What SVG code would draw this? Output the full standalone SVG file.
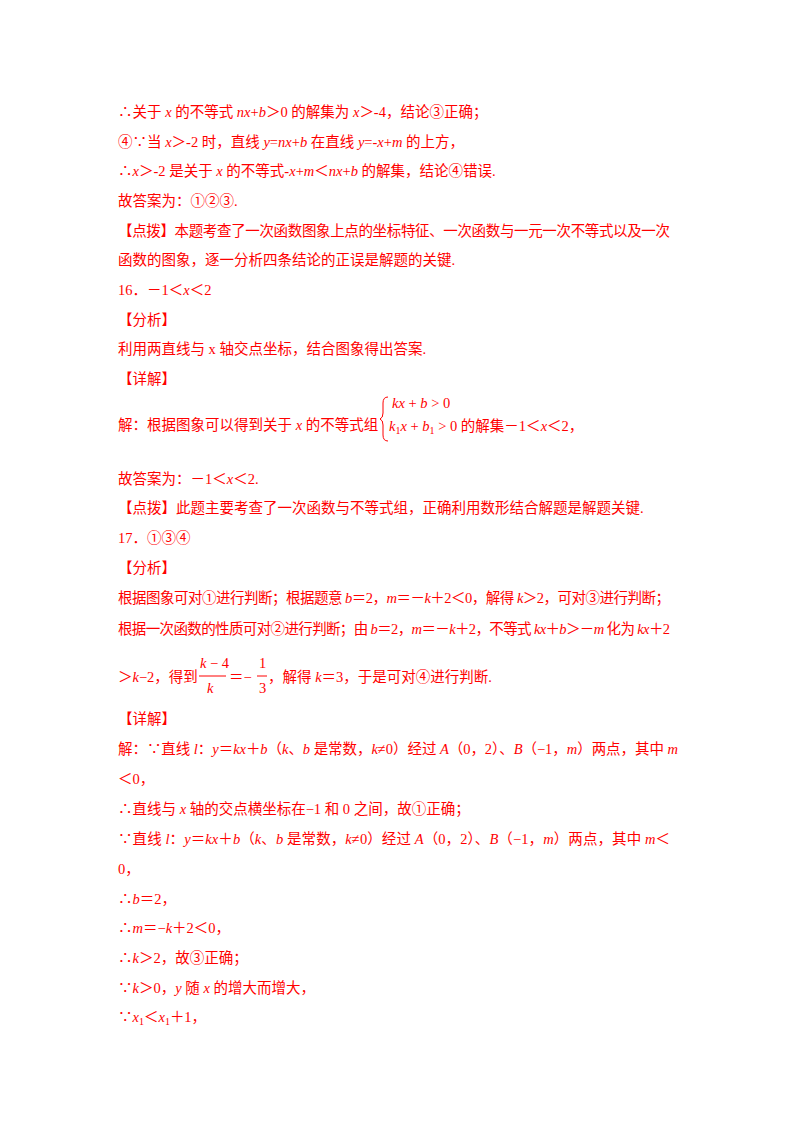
<svg xmlns="http://www.w3.org/2000/svg" width="800" height="1132" viewBox="0 0 800 1132">
<style>
text{font-family:"Liberation Serif","Noto Sans CJK SC",serif;font-size:14.5px;fill:#ff0000}
.i{font-style:italic}
.s{font-size:10px}
</style>
<rect width="800" height="1132" fill="#fff"/>
<g id="text">
<text x="118" y="117">∴关于 <tspan class="i">x</tspan> 的不等式 <tspan class="i">nx</tspan>+<tspan class="i">b</tspan>＞0 的解集为 <tspan class="i">x</tspan>＞-4，结论③正确；</text>
<text x="118" y="147">④∵当 <tspan class="i">x</tspan>＞-2 时，直线 <tspan class="i">y</tspan>=<tspan class="i">nx</tspan>+<tspan class="i">b</tspan> 在直线 <tspan class="i">y</tspan>=-<tspan class="i">x</tspan>+<tspan class="i">m</tspan> 的上方，</text>
<text x="118" y="176">∴<tspan class="i">x</tspan>＞-2 是关于 <tspan class="i">x</tspan> 的不等式-<tspan class="i">x</tspan>+<tspan class="i">m</tspan>＜<tspan class="i">nx</tspan>+<tspan class="i">b</tspan> 的解集，结论④错误.</text>
<text x="118" y="206">故答案为：①②③.</text>
<text x="118" y="236" textLength="552">【点拨】本题考查了一次函数图象上点的坐标特征、一次函数与一元一次不等式以及一次</text>
<text x="118" y="265">函数的图象，逐一分析四条结论的正误是解题的关键.</text>
<text x="118" y="295">16．－1＜<tspan class="i">x</tspan>＜2</text>
<text x="118" y="325">【分析】</text>
<text x="118" y="354">利用两直线与 x 轴交点坐标，结合图象得出答案.</text>
<text x="118" y="384">【详解】</text>
<text x="118" y="430">解：根据图象可以得到关于 <tspan class="i">x</tspan> 的不等式组</text>
<path d="M388,397 q-5,0 -5,6 v10 q0,5 -3,6 q3,1 3,6 v10 q0,6 5,6" fill="none" stroke="#ff0000" stroke-width="1"/>
<text x="392" y="408" class="i">kx<tspan font-style="normal"> + </tspan>b<tspan font-style="normal"> &gt; 0</tspan></text>
<text x="389" y="431"><tspan class="i">k</tspan><tspan class="s" dy="3">1</tspan><tspan class="i" dy="-3">x</tspan> + <tspan class="i">b</tspan><tspan class="s" dy="3">1</tspan><tspan dy="-3"> &gt; 0 的解集－1＜</tspan><tspan class="i">x</tspan>＜2，</text>
<text x="118" y="484">故答案为：－1＜<tspan class="i">x</tspan>＜2.</text>
<text x="118" y="513">【点拨】此题主要考查了一次函数与不等式组，正确利用数形结合解题是解题关键.</text>
<text x="118" y="543">17．①③④</text>
<text x="118" y="573">【分析】</text>
<text x="118" y="603" textLength="552">根据图象可对①进行判断；根据题意 <tspan class="i">b</tspan>＝2，<tspan class="i">m</tspan>＝－<tspan class="i">k</tspan>＋2＜0，解得 <tspan class="i">k</tspan>＞2，可对③进行判断；</text>
<text x="118" y="634" textLength="552">根据一次函数的性质可对②进行判断；由 <tspan class="i">b</tspan>＝2，<tspan class="i">m</tspan>＝－<tspan class="i">k</tspan>＋2，不等式 <tspan class="i">kx</tspan>＋<tspan class="i">b</tspan>＞－<tspan class="i">m</tspan> 化为 <tspan class="i">kx</tspan>＋2</text>
<text x="118" y="682">＞<tspan class="i">k</tspan>−2，得到</text>
<text x="200" y="668" class="i">k<tspan font-style="normal"> − 4</tspan></text>
<line x1="199" y1="676" x2="226" y2="676" stroke="#ff0000" stroke-width="1"/>
<text x="207" y="693" class="i">k</text>
<text x="229" y="682">＝−</text>
<text x="259" y="668">1</text>
<line x1="257" y1="676" x2="267" y2="676" stroke="#ff0000" stroke-width="1"/>
<text x="259" y="693">3</text>
<text x="268" y="682">，解得 <tspan class="i">k</tspan>＝3，于是可对④进行判断.</text>
<text x="118" y="724">【详解】</text>
<text x="118" y="754" textLength="560">解：∵直线 <tspan class="i">l</tspan>：<tspan class="i">y</tspan>＝<tspan class="i">kx</tspan>＋<tspan class="i">b</tspan>（<tspan class="i">k</tspan>、<tspan class="i">b</tspan> 是常数，<tspan class="i">k</tspan>≠0）经过 <tspan class="i">A</tspan>（0，2）、<tspan class="i">B</tspan>（−1，<tspan class="i">m</tspan>）两点，其中 <tspan class="i">m</tspan></text>
<text x="118" y="784">＜0，</text>
<text x="118" y="814">∴直线与 <tspan class="i">x</tspan> 轴的交点横坐标在−1 和 0 之间，故①正确；</text>
<text x="118" y="844" textLength="552">∵直线 <tspan class="i">l</tspan>：<tspan class="i">y</tspan>＝<tspan class="i">kx</tspan>＋<tspan class="i">b</tspan>（<tspan class="i">k</tspan>、<tspan class="i">b</tspan> 是常数，<tspan class="i">k</tspan>≠0）经过 <tspan class="i">A</tspan>（0，2）、<tspan class="i">B</tspan>（−1，<tspan class="i">m</tspan>）两点，其中 <tspan class="i">m</tspan>＜</text>
<text x="118" y="874">0，</text>
<text x="118" y="904">∴<tspan class="i">b</tspan>＝2，</text>
<text x="118" y="933">∴<tspan class="i">m</tspan>＝−<tspan class="i">k</tspan>＋2＜0，</text>
<text x="118" y="963">∴<tspan class="i">k</tspan>＞2，故③正确；</text>
<text x="118" y="993">∵<tspan class="i">k</tspan>＞0，<tspan class="i">y</tspan> 随 <tspan class="i">x</tspan> 的增大而增大，</text>
<text x="118" y="1022">∵<tspan class="i">x</tspan><tspan class="s" dy="3">1</tspan><tspan dy="-3">＜</tspan><tspan class="i">x</tspan><tspan class="s" dy="3">1</tspan><tspan dy="-3">＋1，</tspan></text>
</g>
</svg>
